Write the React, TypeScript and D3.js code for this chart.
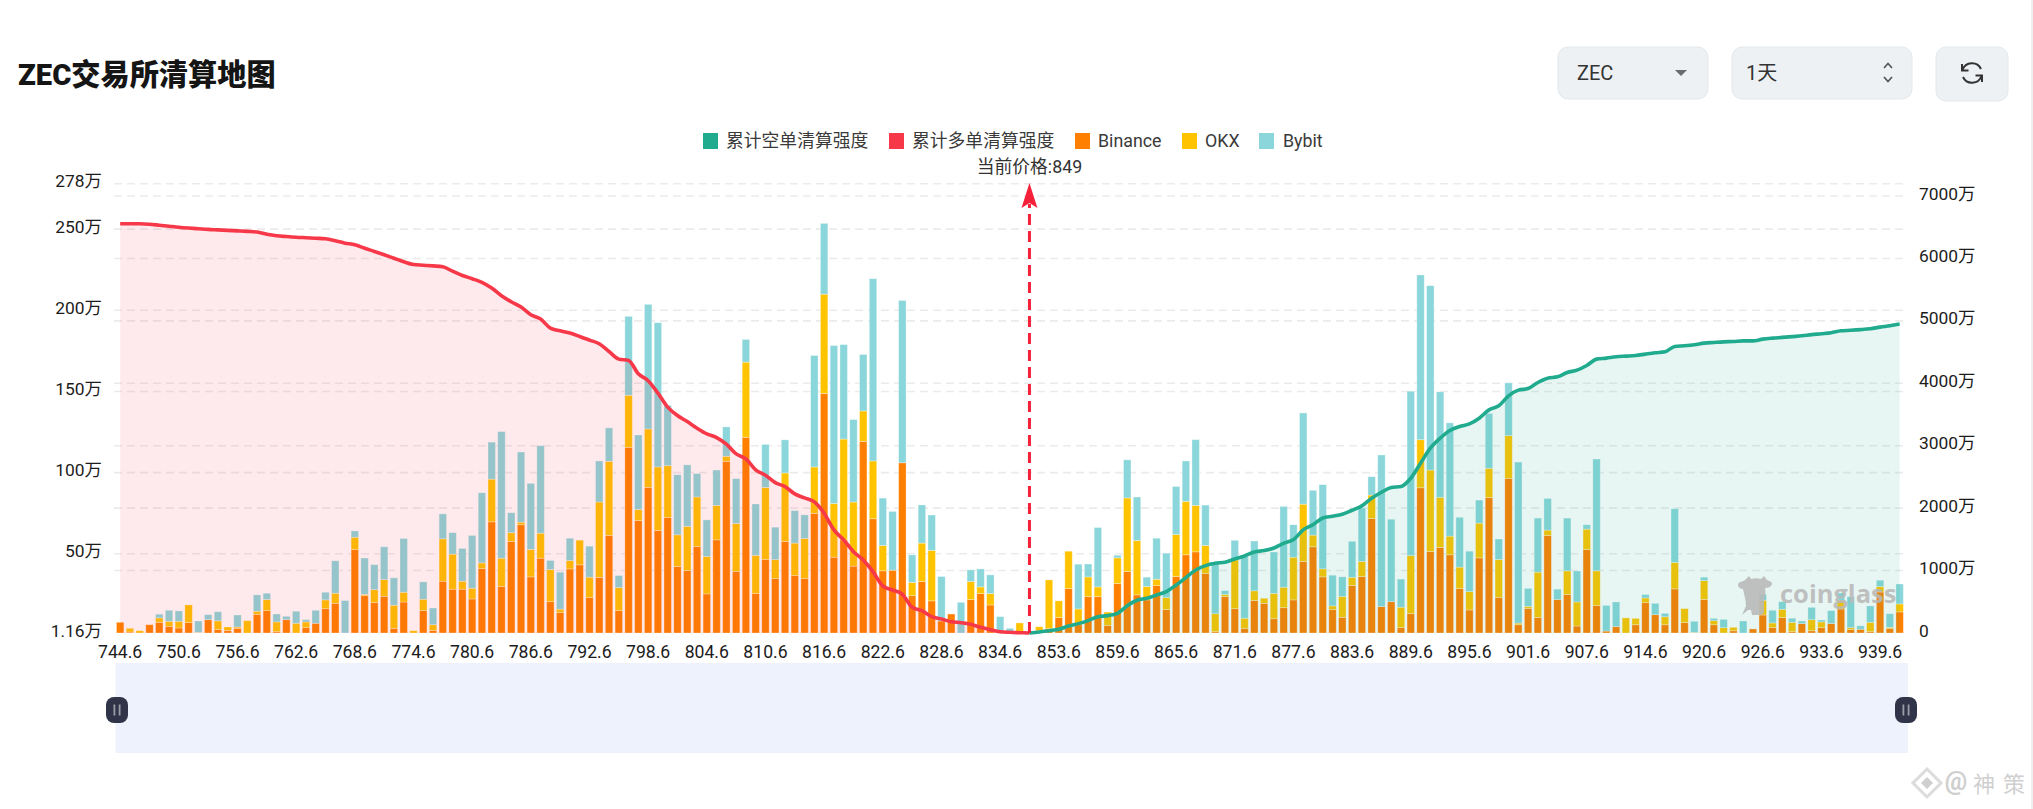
import React, { useEffect, useRef } from 'react';
import * as d3 from 'd3';

const FONT = 'Roboto, "Noto Sans CJK SC", sans-serif';

// all values in 万
const binance = [
  6.6, 0.6, 0, 5.1, 6.6, 4.1, 3.1, 6.4, 0, 8.2,
  2.1, 1.6, 2.9, 0, 11.5, 13.8, 0.8, 8.2, 0, 3.3,
  6, 15, 18.3, 0, 51.4, 23, 18.7, 22.6, 2.9, 19.1,
  0, 13.8, 1.6, 31.9, 27, 27, 21, 39.7, 68.5, 28.6,
  56.4, 66.7, 34.6, 46.1, 19.3, 12.6, 39.5, 42, 21.8, 34.2,
  60.1, 13.8, 114.4, 69.3, 89.7, 63.2, 71.2, 41, 38.5, 53.3,
  24.1, 57.4, 105.8, 37.9, 120.6, 24.3, 45.3, 33.5, 56.4, 35.4,
  33.5, 73.7, 147.5, 46.7, 57.4, 41.2, 118.1, 70.4, 38.3, 38.7,
  104.9, 23, 31.7, 19.8, 7.4, 11.7, 0, 20.6, 24.3, 17.3,
  0, 0, 0, 0, 1.4, 2.9, 9.5, 27.4, 5.1, 22.4,
  22.4, 4.7, 30.5, 37.9, 23.5, 20.4, 29.2, 14.4, 34.8, 48.2,
  50, 36.6, 0.8, 22.4, 15, 2.9, 20, 18.3, 8.8, 15.6,
  20.4, 44, 53.1, 34.6, 14.4, 9.7, 29.2, 34.8, 70.6, 16.3,
  19.3, 3.3, 11.9, 89.5, 50.2, 52.7, 48.2, 27.4, 14.2, 46.3,
  83.4, 22, 95.3, 5.1, 15.2, 9.5, 60.1, 20.6, 23.7, 4.3,
  51.4, 16.9, 1.2, 3.9, 0, 5.1, 18.7, 11.3, 5.1, 27.2,
  6.4, 0, 20.6, 5.1, 0, 1.4, 0, 2.5, 11.1, 3.3,
  9.5, 0.8, 5.8, 1.4, 3.3, 5.8, 14.8, 2.1, 2.3, 0.8,
  25.3, 2.7, 13,
];

const okx = [
  0, 2.3, 1.4, 0, 2.7, 3.1, 4.1, 10.9, 0.4, 0,
  5.4, 2.1, 0.8, 7.6, 1.9, 6.8, 6, 0, 6, 3.5,
  0, 5.4, 6.2, 0, 7.6, 0.8, 8, 10.3, 14.2, 6,
  1.4, 7, 3.5, 26.1, 21.6, 4.9, 6.6, 3.5, 26.3, 17.5,
  5.4, 1.6, 16.9, 15.4, 19.8, 2.1, 5.1, 15.2, 12.6, 46.5,
  45.7, 14.2, 32.1, 6.8, 36, 39.1, 31.9, 19.5, 27.2, 30.5,
  23, 21.2, 3.1, 29.6, 46.3, 23.5, 44.4, 11.7, 42.2, 20,
  24.7, 28.6, 61.3, 33.1, 62.1, 39.5, 18.7, 35.6, 15.6, 0,
  0, 8.2, 23.7, 31.1, 0, 0, 0, 11.1, 4.1, 7,
  0, 0, 6.2, 0, 2.5, 29.8, 10.3, 23, 9.7, 12.1,
  6, 8.2, 15.8, 45.3, 33.5, 8.2, 3.9, 7.4, 25.9, 32.9,
  28.6, 17.3, 11.1, 1.4, 30, 6.2, 6, 3.1, 15.6, 12.6,
  26.3, 35.4, 7.2, 4.9, 2.3, 12.8, 5.1, 9.3, 14.4, 0,
  0, 12.6, 35.8, 29.6, 50.2, 30.9, 11.5, 13.2, 11.3, 21.4,
  18.1, 23.3, 26.3, 1, 1.2, 28, 3.3, 0, 14.6, 14.8,
  12.6, 21.4, 0, 0, 9.3, 3.9, 2.9, 0, 4.9, 16.3,
  8.6, 0.4, 11.7, 2.5, 3.3, 2.1, 0, 0, 9.1, 2.9,
  5.1, 5.8, 0, 6.8, 3.5, 0, 5.4, 1.2, 0, 5.8,
  3.3, 0.8, 4.9,
];

const bybit = [
  0, 0, 0, 0, 2.3, 6.8, 6.4, 0, 7, 3.1,
  5.6, 0, 7.4, 0, 10.1, 3.9, 4.9, 2.1, 7.4, 1.4,
  8, 4.7, 20, 20, 3.9, 22.4, 15.4, 20.2, 16.9, 33.1,
  0, 10.7, 10.3, 15.4, 13.2, 20.2, 32.5, 43.2, 22.8, 78,
  12.3, 43.2, 40.7, 53.9, 5.6, 22.8, 13.8, 0, 19.1, 25.3,
  20.6, 7.4, 48.6, 45.9, 76.8, 88.9, 37.2, 37, 37.9, 14.4,
  22.6, 21.8, 18.1, 27.6, 14, 31.7, 26.5, 20, 20.4, 20,
  14.6, 68.7, 43.6, 97.3, 58.2, 50.8, 34.8, 112.3, 29.2, 36.2,
  100, 16.9, 23.5, 21.8, 27.4, 0, 18.9, 7.2, 11.1, 11.5,
  10.1, 2.9, 0, 0, 0, 0, 0, 0, 27.6, 8,
  36.6, 0, 1.6, 23.5, 26.8, 5.8, 25.3, 27.4, 29.6, 24.9,
  40.5, 24.9, 31.1, 2.3, 12.1, 38.1, 30.7, 0, 25.5, 49.8,
  20, 56.2, 27.6, 51.9, 18.9, 12.1, 22.2, 32.9, 11.3, 93.4,
  50.8, 17.3, 101.3, 101.5, 113.6, 65, 69.8, 30.7, 24.9, 14.2,
  33.8, 12.6, 32.5, 99.2, 11.1, 33.3, 19.5, 6.4, 32.5, 19.1,
  2.7, 68.9, 15.8, 15.2, 0, 0, 2.1, 7, 2.1, 33.1,
  0, 6.8, 2.1, 1.4, 5.1, 0, 7.4, 0, 3.7, 7.8,
  4.7, 2.5, 1.6, 7.6, 1.2, 8, 4.5, 19.1, 2.1, 10.1,
  3.9, 8.4, 12.3,
];

// cumulative long liquidation, bar 0 up to the current price bar (93)
const longCum = [
  6556, 6556, 6556, 6548, 6532, 6516, 6500, 6487, 6476, 6465,
  6457, 6449, 6441, 6433, 6423, 6388, 6364, 6351, 6340, 6332,
  6324, 6316, 6284, 6244, 6220, 6164, 6112, 6059, 6003, 5947,
  5902, 5891, 5880, 5867, 5795, 5727, 5675, 5618, 5526, 5402,
  5306, 5221, 5098, 5029, 4884, 4841, 4804, 4750, 4692, 4633,
  4509, 4387, 4365, 4152, 4040, 3842, 3618, 3483, 3387, 3281,
  3190, 3131, 3025, 2869, 2789, 2613, 2528, 2409, 2345, 2228,
  2164, 2100, 1919, 1651, 1491, 1303, 1170, 983, 753, 689,
  620, 412, 357, 261, 224, 181, 165, 139, 91, 53,
  21, 11, 5, 0,
];

// cumulative short liquidation, bar 93 to the last bar
const shortCum = [
  0, 16, 37, 59, 112, 150, 198,
  262, 278, 315, 438, 524, 556, 609, 663, 769, 887,
  1010, 1079, 1117, 1133, 1186, 1234, 1298, 1320, 1362, 1437,
  1496, 1651, 1736, 1843, 1870, 1902, 1966, 2036, 2159, 2255,
  2330, 2346, 2479, 2720, 2960, 3120, 3243, 3307, 3350, 3441,
  3574, 3639, 3799, 3890, 3916, 4013, 4082, 4103, 4173, 4210,
  4285, 4387, 4403, 4424, 4435, 4445, 4467, 4488, 4504, 4590,
  4600, 4616, 4643, 4654, 4664, 4670, 4680, 4680, 4707, 4723,
  4735, 4748, 4761, 4780, 4793, 4809, 4841, 4849, 4859, 4873,
  4900, 4921, 4948,
];

const xTickLabels = [
  '744.6', '750.6', '756.6', '762.6', '768.6', '774.6', '780.6', '786.6',
  '792.6', '798.6', '804.6', '810.6', '816.6', '822.6', '828.6', '834.6',
  '853.6', '859.6', '865.6', '871.6', '877.6', '883.6', '889.6', '895.6',
  '901.6', '907.6', '914.6', '920.6', '926.6', '933.6', '939.6',
];
const leftTicks = [1.16, 50, 100, 150, 200, 250, 278];
const rightTicks = [0, 1000, 2000, 3000, 4000, 5000, 6000, 7000];

const COLORS = { Binance: '#ff8000', OKX: '#ffc300', Bybit: '#8ad6da', short: '#20ab8e', long: '#f63849' };
const legendItems = [
  { name: '累计空单清算强度', color: COLORS.short, sx: 703, tx: 726 },
  { name: '累计多单清算强度', color: COLORS.long, sx: 889, tx: 912 },
  { name: 'Binance', color: COLORS.Binance, sx: 1075, tx: 1098 },
  { name: 'OKX', color: COLORS.OKX, sx: 1182, tx: 1205 },
  { name: 'Bybit', color: COLORS.Bybit, sx: 1259, tx: 1283 },
];

const PRICE_IDX = 93;

const App = () => {
  const svgRef = useRef<SVGSVGElement>(null);

  useEffect(() => {
    const svg = d3.select(svgRef.current);
    svg.selectAll('*').remove();
    svg.attr('font-family', FONT);

    const indices = d3.range(binance.length);
    const x = d3.scaleBand<number>().domain(indices).range([114.1, 1905.7]).padding(0.24);
    const cx = (i: number) => (x(i) as number) + x.bandwidth() / 2;
    const yL = d3.scaleLinear().domain([1.16, 278]).range([633, 183.7]);
    const yR = d3.scaleLinear().domain([0, 7000]).range([633, 196]);

    // grid lines from both axes
    const grid = svg.append('g');
    [...leftTicks.slice(1).map((t) => yL(t)), ...rightTicks.slice(1).map((t) => yR(t))].forEach((py) => {
      grid.append('line')
        .attr('x1', 114).attr('x2', 1908).attr('y1', py).attr('y2', py)
        .attr('stroke', '#e6e6e6').attr('stroke-opacity', 0.8)
        .attr('stroke-width', 1.6).attr('stroke-dasharray', '8 5');
    });

    // stacked bars, they start from the axis minimum
    const rows = indices.map((i) => ({ i, Binance: binance[i], OKX: okx[i], Bybit: bybit[i] }));
    const stack = d3.stack<any>().keys(['Binance', 'OKX', 'Bybit'])(rows);
    stack.forEach((layer) => {
      svg.append('g').selectAll('rect')
        .data(layer.filter((d) => d[1] > d[0]))
        .join('rect')
        .attr('x', (d) => x(d.data.i) as number)
        .attr('width', x.bandwidth())
        .attr('y', (d) => yL(d[1] + 1.16))
        .attr('height', (d) => yL(d[0] + 1.16) - yL(d[1] + 1.16))
        .attr('fill', COLORS[layer.key])
        .attr('stroke', '#fff').attr('stroke-opacity', 0.4).attr('stroke-width', 0.8);
    });

    // areas go over the bars
    const longPts = longCum.map((v, i) => ({ i, v }));
    const shortPts = shortCum.map((v, i) => ({ i: i + PRICE_IDX, v }));
    const area = d3.area<any>().x((d) => cx(d.i)).y0(633).y1((d) => yR(d.v)).curve(d3.curveMonotoneX);
    const line = d3.line<any>().x((d) => cx(d.i)).y((d) => yR(d.v)).curve(d3.curveMonotoneX);
    svg.append('path').attr('d', area(longPts)).attr('fill', COLORS.long).attr('fill-opacity', 0.105);
    svg.append('path').attr('d', area(shortPts)).attr('fill', COLORS.short).attr('fill-opacity', 0.1);
    svg.append('path').attr('d', line(longPts)).attr('fill', 'none').attr('stroke', COLORS.long).attr('stroke-width', 3.6);
    svg.append('path').attr('d', line(shortPts)).attr('fill', 'none').attr('stroke', COLORS.short).attr('stroke-width', 3.6);

    // current price marker
    const px = cx(PRICE_IDX);
    svg.append('line')
      .attr('x1', px).attr('x2', px).attr('y1', 633).attr('y2', 204)
      .attr('stroke', '#f5203a').attr('stroke-width', 3).attr('stroke-dasharray', '11 6');
    svg.append('path')
      .attr('d', `M${px},183 L${px + 8},208 L${px},203 L${px - 8},208 Z`)
      .attr('fill', '#f5203a');
    svg.append('text')
      .attr('x', px).attr('y', 166).attr('text-anchor', 'middle').attr('dominant-baseline', 'central')
      .attr('font-size', 17.8).attr('fill', '#333').text('当前价格:849');

    // axes
    const styleAxis = (g: any, size: number) => {
      g.select('.domain').remove();
      g.selectAll('text').attr('font-size', size).attr('font-family', FONT).attr('fill', '#1c1c1c');
    };
    svg.append('g').attr('transform', 'translate(106,-2.5)')
      .call(d3.axisLeft(yL).tickValues(leftTicks).tickSize(0).tickPadding(4).tickFormat((d) => `${d}万`))
      .call(styleAxis, 17.4);
    svg.append('g').attr('transform', 'translate(1915,-2.5)')
      .call(d3.axisRight(yR).tickValues(rightTicks).tickSize(0).tickPadding(4).tickFormat((d) => (d === 0 ? '0' : `${d}万`)))
      .call(styleAxis, 17.4);
    svg.append('g').attr('transform', 'translate(0,642.5)')
      .call(d3.axisBottom(x).tickValues(d3.range(0, binance.length, 6)).tickSize(0).tickPadding(3)
        .tickFormat((i: number) => xTickLabels[i / 6]))
      .call(styleAxis, 17.6);

    // legend
    legendItems.forEach((d) => {
      svg.append('rect').attr('x', d.sx).attr('y', 133).attr('width', 15).attr('height', 16).attr('fill', d.color);
      svg.append('text').attr('x', d.tx).attr('y', 140).attr('dominant-baseline', 'central')
        .attr('font-size', 17.8).attr('fill', '#3a3a3a').text(d.name);
    });

    // title
    svg.append('text').attr('x', 18).attr('y', 75).attr('dominant-baseline', 'central')
      .attr('font-size', 29.2).attr('font-weight', 900).attr('fill', '#151515').text('ZEC交易所清算地图');

    // top right controls
    const btn = (bx: number, w: number, h: number) => {
      svg.append('rect').attr('x', bx).attr('y', 47).attr('width', w).attr('height', h).attr('rx', 10)
        .attr('fill', '#edf1f4').attr('stroke', '#e3e8eb').attr('stroke-width', 1);
    };
    btn(1558, 150, 52);
    btn(1732, 180, 52);
    btn(1936, 72, 54);
    svg.append('text').attr('x', 1577).attr('y', 73).attr('dominant-baseline', 'central')
      .attr('font-size', 20).attr('fill', '#333').text('ZEC');
    svg.append('path').attr('d', 'M1675,70 L1687,70 L1681,76 Z').attr('fill', '#6b6b6b');
    svg.append('text').attr('x', 1746).attr('y', 73).attr('dominant-baseline', 'central')
      .attr('font-size', 20).attr('fill', '#333').text('1天');
    svg.append('path').attr('d', 'M1884,68 L1888,63.5 L1892,68 M1884,77 L1888,81.5 L1892,77')
      .attr('fill', 'none').attr('stroke', '#555').attr('stroke-width', 1.7);
    svg.append('g').attr('transform', 'translate(1972,73)').attr('fill', 'none').attr('stroke', '#333').attr('stroke-width', 2)
      .call((g: any) => {
        g.append('path').attr('d', 'M-9.5,-3 A10,10 0 0 1 9,-4');
        g.append('path').attr('d', 'M9.5,3 A10,10 0 0 1 -9,4');
        g.append('path').attr('d', 'M-10,-9 L-10,-2.5 L-3.5,-2.5');
        g.append('path').attr('d', 'M10,9 L10,2.5 L3.5,2.5');
      });

    // zoom slider
    svg.append('rect').attr('x', 115.5).attr('y', 663).attr('width', 1792.5).attr('height', 90).attr('fill', '#eef2fd');
    [117, 1906].forEach((hx) => {
      svg.append('rect').attr('x', hx - 11).attr('y', 697).attr('width', 22).attr('height', 26).attr('rx', 8).attr('fill', '#2f3449');
      [-2.6, 2.6].forEach((o) => {
        svg.append('rect').attr('x', hx + o - 0.9).attr('y', 704.5).attr('width', 1.8).attr('height', 11).attr('fill', '#9a9ca6');
      });
    });

    // coinglass watermark
    const wm = svg.append('g').attr('fill', '#b9b9b9').attr('fill-opacity', 0.9);
    wm.append('path').attr('d', 'M1738,585 C1738,581 1744,582 1746,579 L1749,576 L1751,579 C1754,578 1758,578 1761,579 L1764,576 L1767,580 '
      + 'C1769,581 1772,581 1772,584 C1771,587 1768,588 1765,588 C1766,593 1765,597 1764,600 L1764,612 C1764,614 1762,615 1760,615 '
      + 'L1752,615 L1751,610 L1748,610 L1742,615 L1746,606 C1746,600 1744,594 1743,589 C1740,589 1738,587 1738,585 Z');
    wm.append('text').attr('x', 1780).attr('y', 593).attr('dominant-baseline', 'central')
      .attr('font-family', '"Open Sans", sans-serif').attr('font-weight', 700).attr('font-size', 25.5).text('coinglass');

    // bottom right repost mark
    const mark = svg.append('g').attr('fill', '#cfcfcf');
    mark.append('path').attr('d', 'M1927,769 L1941,783 L1927,797 L1913,783 Z').attr('fill', 'none').attr('stroke', '#dcdcdc').attr('stroke-width', 3);
    mark.append('path').attr('d', 'M1927,777 L1933,783 L1927,789 L1921,783 Z');
    mark.append('text').attr('x', 1956).attr('y', 781).attr('text-anchor', 'middle').attr('dominant-baseline', 'central')
      .attr('font-size', 25).attr('font-weight', 700).text('@');
    mark.append('text').attr('x', 1984).attr('y', 784).attr('text-anchor', 'middle').attr('dominant-baseline', 'central')
      .attr('font-size', 22).text('神');
    mark.append('text').attr('x', 2014).attr('y', 784).attr('text-anchor', 'middle').attr('dominant-baseline', 'central')
      .attr('font-size', 22).text('策');

    svg.append('rect').attr('x', 2031).attr('y', 0).attr('width', 2).attr('height', 809).attr('fill', '#efefef');
  }, []);

  return (
    <svg
      ref={svgRef}
      width={2033}
      height={809}
      style={{ position: 'fixed', left: 0, top: 0, background: '#fff' }}
    />
  );
};

export default App;
